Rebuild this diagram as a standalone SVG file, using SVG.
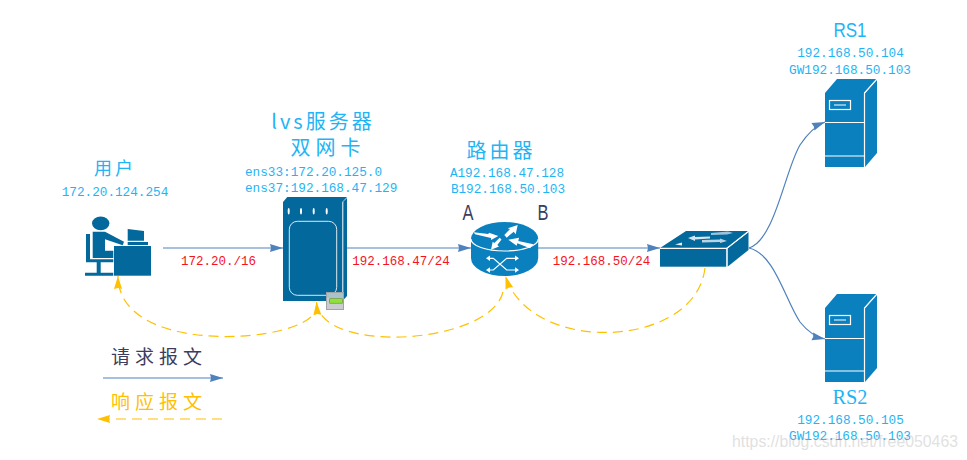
<svg xmlns="http://www.w3.org/2000/svg" width="967" height="460" viewBox="0 0 967 460">
<style>
text{text-anchor:middle}
.ip{font:12.700px "Liberation Mono","Noto Sans CJK SC",monospace;fill:#1eb4f5}
.net{font:12.500px "Liberation Mono",monospace;fill:#f5141e}
.cn{font:20px "Noto Sans CJK SC",sans-serif;fill:#1eb4f5;letter-spacing:3px}
.lg{font:19px "Noto Sans CJK SC",sans-serif;letter-spacing:5px}
.ab{font:22px "Liberation Sans",sans-serif;fill:#3c3c5e}
.d{fill:#03689b}.b{fill:#0a80bf}
.w{fill:none;stroke:#fff;stroke-width:1.200}
.wf{fill:#fff}
.c{fill:none;stroke:#4f81bd;stroke-width:1.200}
.o{fill:none;stroke:#ffc000;stroke-width:1.200;stroke-dasharray:10 6}
</style>
<defs>
<marker id="ab" markerUnits="userSpaceOnUse" markerWidth="14" markerHeight="10" refX="13" refY="4" orient="auto" overflow="visible"><path d="M0 0L13 4L0 8L1 4Z" fill="#4f81bd"/></marker>
<marker id="ao" markerUnits="userSpaceOnUse" markerWidth="14" markerHeight="10" refX="13" refY="4" orient="auto" overflow="visible"><path d="M0 0L13 4L0 8L1 4Z" fill="#ffc000"/></marker>
</defs>
<g id="connectors">
<path class="c" marker-end="url(#ab)" d="M163 248H283"/>
<path class="c" marker-end="url(#ab)" d="M347 248H471"/>
<path class="c" marker-end="url(#ab)" d="M538 248H660"/>
<path class="c" marker-end="url(#ab)" d="M749 248C775 240 785 170 800 145C808 133 815 126 825 122"/>
<path class="c" marker-end="url(#ab)" d="M749 248C775 254 785 300 800 322C808 332 815 337 825 339"/>
<path class="o" marker-end="url(#ao)" d="M311 317C280 345 118 352 118 276"/>
<path class="o" marker-end="url(#ao)" d="M503 292C490 345 320 355 316.500 302"/>
<path class="o" marker-end="url(#ao)" d="M705 268C695 350 530 355 505.500 276"/>
<path class="c" marker-end="url(#ab)" d="M103 378H223"/>
<path class="o" marker-end="url(#ao)" d="M222 419H97"/>
</g>
<g id="user">
<ellipse class="d" cx="100.700" cy="223.300" rx="8.700" ry="6.900"/>
<path class="d" d="M92.700 231.700H105L124 241.700L122.700 245.300L105 239.300V250.700H113.300V258H92.700ZM86 234H90V259.300H113.300V262.300H100.700V272.700H113.300V275.700H85V272.700H96.700V262.300H86Z"/>
<rect class="d" x="114" y="246" width="37" height="29.700"/>
<path class="d" d="M127.700 229L144 231V240.700H127.700ZM127.700 242H148V245H127.700Z"/>
<text class="cn" x="115" y="175" style="font-size:18px">用户</text>
<text class="ip" x="115" y="196">172.20.124.254</text>
</g>
<g id="lvs">
<path class="d" d="M283 202L287.300 197H347L342.300 202ZM343.300 201.500L347 198V296L343.300 300Z"/>
<rect class="d" x="283" y="202" width="59.300" height="99"/>
<rect x="289.300" y="221.300" width="47.400" height="74" rx="8" fill="none" stroke="#dbe9f0"/>
<g class="wf"><ellipse cx="288.700" cy="211.300" rx="1" ry="3.300"/><ellipse cx="301" cy="211.300" rx="1" ry="3.300"/><ellipse cx="313.700" cy="211.300" rx="1" ry="3.300"/><ellipse cx="326.700" cy="211.300" rx="1" ry="3.300"/></g>
<text class="cn" x="323" y="129">lvs服务器</text>
<text class="cn" x="328" y="155" style="letter-spacing:5px">双网卡</text>
<text class="ip" x="245" y="176" style="text-anchor:start">ens33:172.20.125.0</text>
<text class="ip" x="245" y="192" style="text-anchor:start">ens37:192.168.47.129</text>
<rect x="326.500" y="292.500" width="17" height="17" fill="#c9cdce" stroke="#a0a4a4"/>
<path d="M327 293H343V298H327Z" fill="#a9c2cc"/>
<rect x="329.700" y="298.700" width="12.600" height="4.500" fill="#8fe03c" stroke="#5d8f28" stroke-width=".6"/>
</g>
<g id="router">
<path class="b" d="M471 239V258A33.600 18 0 0 0 538.200 258V239Z"/>
<ellipse class="b" cx="504.600" cy="239" rx="33.600" ry="17"/>
<path class="w" d="M471 239A33.600 12 0 0 0 538.200 239"/>
<path class="wf" d="M473.700 232.300L488.300 234L489 232.700L498.300 236L491 240L491 238L475 234.300ZM504.300 235L510 229L507.700 228.300L517.700 225L515.700 234.300L513.700 231.700L506.700 237.700ZM533.300 244.300L518.300 241L519 237.700L508.300 239.700L516.700 245.700L517.300 243.300L530 248.300ZM499.700 237.700L494.300 243L492.700 241.700L491 249.700L499 246.500L497.300 245L501.500 239.500Z"/>
<path class="w" d="M489 258.300H493.300L506.700 270H515M489 270H493.300L506.700 258.300H515" stroke-width="1.500"/>
<path class="wf" d="M490 255.500V261L486 258.300ZM490 267.300V272.700L486 270ZM515 255.500V261L519 258.300ZM515 267.300V272.700L519 270Z"/>
<text class="cn" x="501" y="158">路由器</text>
<text class="ip" x="507" y="177">A192.168.47.128</text>
<text class="ip" x="508" y="193">B192.168.50.103</text>
<text class="ab" x="468" y="220" textLength="11" lengthAdjust="spacingAndGlyphs">A</text>
<text class="ab" x="543" y="220" textLength="11" lengthAdjust="spacingAndGlyphs">B</text>
</g>
<g id="switch">
<path class="d" d="M660 248L686 231H748.500L726.700 248Z"/>
<rect class="d" x="660" y="248.300" width="66.700" height="18.400"/>
<path class="d" d="M727.500 248.300L748.500 232V250L727.500 266.700Z"/>
<path class="w" d="M726.900 267V248.300L749 231"/>
<path class="w" d="M660 248.300H727" stroke-width=".8"/>
<path d="M711 233L728 231.500L733 233L727 234.500L711 235Z" fill="#9cc4dc"/>
<path d="M688 238L695 235.500L695 237L710 236.500V238.500L695 239.500L695 241Z" fill="#d5e6f0"/>
<path d="M702 240L720 239.500L720 238.500L727 241L720 243L720 242L702 242.500Z" fill="#b9d5e5"/>
<path d="M675 244.500L682 242.500V245.500Z" fill="#e6f0f6"/>
</g>
<g id="rs1">
<path class="b" d="M825 93L837 79H877L864 93Z"/>
<rect class="b" x="825" y="93" width="39" height="74"/>
<path class="b" d="M865 93L877 79V153L865 167Z"/>
<path class="w" d="M864.500 167V93L877 79M825 122.500H864M825 156H864M834 105H846"/>
<rect class="w" x="829.500" y="100.500" width="21" height="9"/>
<text x="850" y="37" textLength="33" lengthAdjust="spacingAndGlyphs" style="font:21px 'Liberation Sans',sans-serif;fill:#1eb4f5">RS1</text>
<text class="ip" x="850.500" y="57">192.168.50.104</text>
<text class="ip" x="850" y="74">GW192.168.50.103</text>
</g>
<g id="rs2">
<path class="b" d="M825 308L837 294H877L864 308Z"/>
<rect class="b" x="825" y="308" width="39" height="74"/>
<path class="b" d="M865 308L877 294V368L865 382Z"/>
<path class="w" d="M864.500 382V308L877 294M825 338.500H864M825 371H864M834 320H846"/>
<rect class="w" x="829.500" y="315.500" width="21" height="9"/>
<text x="850" y="404" textLength="35" lengthAdjust="spacingAndGlyphs" style="font:22px 'Liberation Serif',serif;fill:#1eb4f5">RS2</text>
<text class="ip" x="850.500" y="424">192.168.50.105</text>
<text class="ip" x="850" y="440">GW192.168.50.103</text>
</g>
<g id="net-labels">
<text class="net" x="218.500" y="265">172.20./16</text>
<text class="net" x="401" y="265">192.168.47/24</text>
<text class="net" x="601.500" y="265">192.168.50/24</text>
</g>
<g id="legend">
<text class="lg" x="159" y="364" fill="#3c3c5e">请求报文</text>
<text class="lg" x="159" y="409" fill="#ffc000">响应报文</text>
</g>
<text x="845" y="447" textLength="226" lengthAdjust="spacingAndGlyphs" style="font:17px 'Liberation Sans',sans-serif;fill:#aaa;opacity:.35">https://blog.csdn.net/free050463</text>
</svg>
